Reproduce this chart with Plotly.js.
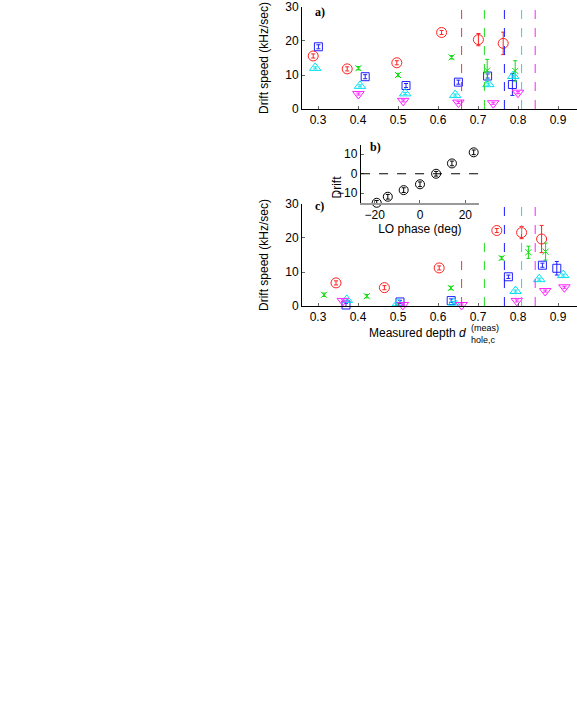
<!DOCTYPE html>
<html>
<head>
<meta charset="utf-8">
<script src="https://cdn.plot.ly/plotly-3.0.1.min.js"></script>
<style>
  html, body { margin: 0; padding: 0; background: #fff; }
  #chart { width: 577px; height: 713px; }
</style>
</head>
<body>
<div id="chart"></div>
<script>
// Panel a) drift speed vs depth
const redA_x = [0.288, 0.373, 0.497, 0.609, 0.701, 0.763];
const redA_y = [15.6, 11.8, 13.6, 22.5, 20.4, 19.3];
const redA_e = [0.6, 0.6, 0.6, 0.6, 1.8, 3.3];
const blueA_x = [0.301, 0.418, 0.52, 0.651, 0.724, 0.786];
const blueA_y = [18.3, 9.5, 6.9, 7.9, 9.7, 7.2];
const blueA_e = [0.6, 0.6, 0.6, 0.6, 0.6, 3.2];
const greenA_x = [0.401, 0.50, 0.634, 0.723, 0.793];
const greenA_y = [12.0, 10.0, 15.2, 11.3, 11.2];
const greenA_e = [0.5, 0.5, 0.5, 3.3, 3.0];
const cyanA_x = [0.293, 0.405, 0.518, 0.643, 0.726, 0.788];
const cyanA_y = [12.1, 6.8, 4.6, 4.1, 7.3, 9.7];
const cyanA_e = [0.3, 0.3, 0.3, 0.3, 0.3, 0.3];
const magA_x = [0.401, 0.513, 0.651, 0.738, 0.80];
const magA_y = [4.4, 2.4, 1.9, 1.7, 4.8];
const magA_e = [0.3, 0.3, 0.3, 0.3, 0.3];

// Panel b) drift vs LO phase
const phase_x = [-19.1, -14.2, -7.2, 0, 7.1, 14.1, 23.7];
const drift_y = [-14.9, -11.8, -8.4, -5.4, 0, 5.3, 11.0];

// Panel c) drift speed vs measured depth
const redC_x = [0.345, 0.466, 0.603, 0.747, 0.809, 0.859];
const redC_y = [6.8, 5.4, 11.2, 22.2, 21.6, 19.7];
const redC_e = [0.6, 0.6, 0.6, 0.6, 1.8, 4.0];
const greenC_x = [0.315, 0.422, 0.632, 0.759, 0.826, 0.869];
const greenC_y = [3.3, 2.9, 5.3, 14.1, 15.8, 16.0];
const greenC_e = [0.5, 0.5, 0.5, 0.5, 1.8, 2.5];
const blueC_x = [0.37, 0.505, 0.633, 0.776, 0.861, 0.897];
const blueC_y = [0.3, 1.2, 1.6, 8.6, 12.0, 11.1];
const blueC_e = [0.5, 0.5, 0.5, 0.5, 0.6, 2.0];
const cyanC_x = [0.372, 0.50, 0.64, 0.794, 0.853, 0.913];
const cyanC_y = [1.8, 0.8, 1.0, 4.4, 7.9, 9.1];
const cyanC_e = [0.3, 0.3, 0.3, 0.3, 0.3, 0.3];
const magC_x = [0.362, 0.512, 0.659, 0.797, 0.868, 0.916];
const magC_y = [1.5, 0.3, 0.3, 1.5, 4.4, 5.5];
const magC_e = [0.3, 0.3, 0.3, 0.3, 0.3, 0.3];

// Vertical dashed threshold lines
const thresholds = [0.659, 0.716, 0.766, 0.809, 0.843];
const threshColors = ["#ff3030", "#22dd22", "#1a1aff", "#00e5ee", "#ff22ff"];
const threshTopC = [15, 20, 30, 30, 30];

const RED = "#ff2020", GREEN = "#11dd11", BLUE = "#2020ff", CYAN = "#00e0f0", MAG = "#ff20ff";

function series(x, y, e, color, symbol, size, xa, ya) {
    return {
        type: "scatter",
        mode: "markers",
        x: x, y: y,
        xaxis: xa, yaxis: ya,
        cliponaxis: false,
        marker: { symbol: symbol, size: size, color: color, line: { color: color, width: 1 } },
        error_y: { type: "data", array: e, visible: true, color: color, thickness: 1, width: 2 }
    };
}

const traces = [
    series(redA_x, redA_y, redA_e, RED, "circle-open", 10, "x", "y"),
    series(blueA_x, blueA_y, blueA_e, BLUE, "square-open", 8, "x", "y"),
    series(greenA_x, greenA_y, greenA_e, GREEN, "x-thin-open", 6, "x", "y"),
    series(cyanA_x, cyanA_y, cyanA_e, CYAN, "triangle-up-open", 10, "x", "y"),
    series(magA_x, magA_y, magA_e, MAG, "triangle-down-open", 10, "x", "y"),

    series(redC_x, redC_y, redC_e, RED, "circle-open", 10, "x3", "y3"),
    series(greenC_x, greenC_y, greenC_e, GREEN, "x-thin-open", 6, "x3", "y3"),
    series(blueC_x, blueC_y, blueC_e, BLUE, "square-open", 8, "x3", "y3"),
    series(cyanC_x, cyanC_y, cyanC_e, CYAN, "triangle-up-open", 10, "x3", "y3"),
    series(magC_x, magC_y, magC_e, MAG, "triangle-down-open", 10, "x3", "y3"),

    series(phase_x, drift_y, drift_y.map(() => 1.2), "#000", "circle-open", 9, "x2", "y2")
];

const shapes = [];
thresholds.forEach((t, i) => {
    shapes.push({ type: "line", xref: "x", yref: "y", x0: t, x1: t, y0: 0, y1: 30,
                  line: { color: threshColors[i], width: 1, dash: "dash" } });
    shapes.push({ type: "line", xref: "x3", yref: "y3", x0: t, x1: t, y0: 0, y1: threshTopC[i],
                  line: { color: threshColors[i], width: 1, dash: "dash" } });
});
// zero line in inset
shapes.push({ type: "line", xref: "x2", yref: "y2", x0: -26, x1: 26, y0: 0, y1: 0,
              line: { color: "#000", width: 1, dash: "dash" } });

const tickFont = { family: "Liberation Sans, Arial, sans-serif", size: 12, color: "#000" };
const smallFont = { family: "Liberation Sans, Arial, sans-serif", size: 9, color: "#000" };
const labelFont = { family: "Liberation Serif, serif", size: 12, color: "#000" };

function ax(domain, range, tickvals, anchor, extra) {
    return Object.assign({
        domain: domain, range: range, anchor: anchor,
        tickmode: "array", tickvals: tickvals,
        ticks: "inside", ticklen: 3, tickcolor: "#666",
        showline: true, linecolor: "#000", linewidth: 1,
        showgrid: false, zeroline: false, tickfont: tickFont
    }, extra || {});
}

const depthTicks = [0.3, 0.4, 0.5, 0.6, 0.7, 0.8, 0.9];

// helper for paper-pixel annotations
function note(text, px, py, font, extra) {
    return Object.assign({ text: text, xref: "paper", yref: "paper", x: px / 577, y: 1 - py / 713,
                           showarrow: false, font: font }, extra || {});
}

const layout = {
    width: 577, height: 713,
    margin: { l: 0, r: 0, t: 0, b: 0 },
    paper_bgcolor: "#fff",
    plot_bgcolor: "rgba(0,0,0,0)",
    showlegend: false,
    font: tickFont,

    // a)
    xaxis: ax([0.5234, 1], [0.26, 0.9475], depthTicks, "y"),
    yaxis: ax([0.8471, 0.9902], [0, 30], [0, 10, 20, 30], "x",
              { title: { text: "Drift speed (kHz/sec)", font: tickFont, standoff: 14 } }),

    // b) inset
    xaxis2: ax([0.6254, 0.8300], [-26.1, 26], [-20, 0, 20], "y2",
               { linecolor: "#999", linewidth: 2, ticktext: ["\u221220", "0", "20"],
                 title: { text: "LO phase (deg)", font: tickFont, standoff: 2 } }),
    yaxis2: ax([0.7153, 0.7973], [-15, 15], [-10, 0, 10], "x2",
               { ticktext: ["\u221210", "0", "10"] }),

    // c)
    xaxis3: ax([0.5234, 1], [0.26, 0.9475], depthTicks, "y3"),
    yaxis3: ax([0.5708, 0.7139], [0, 30], [0, 10, 20, 30], "x3",
               { title: { text: "Drift speed (kHz/sec)", font: tickFont, standoff: 14 } }),

    shapes: shapes,
    annotations: [
        note("<b>a)</b>", 313, 3, labelFont, { xanchor: "left", yanchor: "top" }),
        note("<b>b)</b>", 368, 138, labelFont, { xanchor: "left", yanchor: "top" }),
        note("<b>c)</b>", 313, 197, labelFont, { xanchor: "left", yanchor: "top" }),
        // inset y title, sits above the tick label column as in the original
        note("Drift", 337, 174, tickFont, { textangle: -90 }),
        // depth axis title with stacked super/subscript
        note("Measured depth <i>d</i>", 468, 333, tickFont, { xanchor: "right", yanchor: "middle" }),
        note("(meas)", 469, 328, smallFont, { xanchor: "left", yanchor: "middle" }),
        note("hole,c", 469, 340, smallFont, { xanchor: "left", yanchor: "middle" })
    ]
};

Plotly.newPlot("chart", traces, layout, { displayModeBar: false, staticPlot: true });
</script>
</body>
</html>
